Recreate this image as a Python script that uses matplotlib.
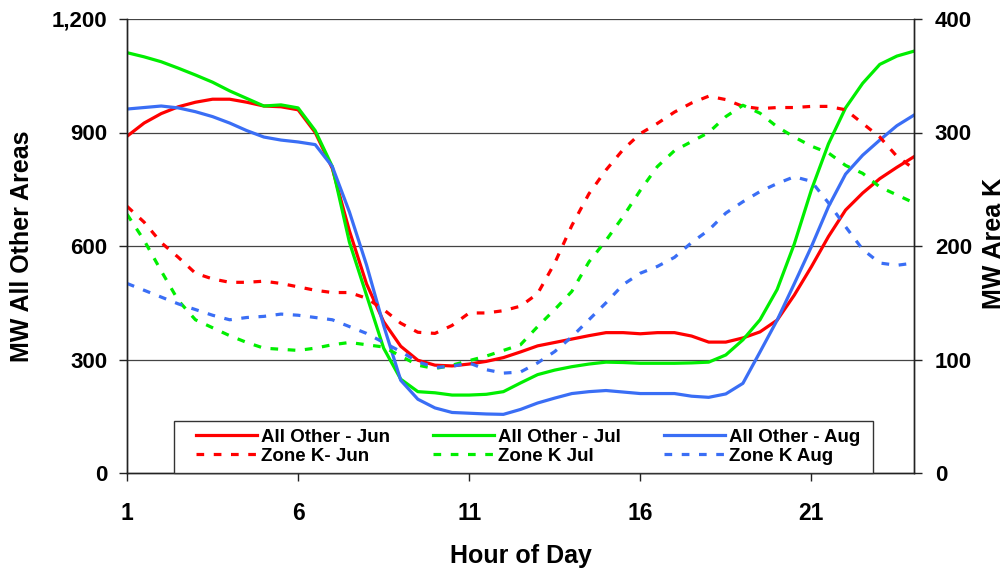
import matplotlib
matplotlib.use("Agg")
import matplotlib.pyplot as plt
from matplotlib.lines import Line2D
from matplotlib.patches import Rectangle

plt.rcParams['font.family'] = ['Liberation Sans', 'DejaVu Sans']
plt.rcParams['font.weight'] = 'bold'

hours = [1, 1.5, 2, 2.5, 3, 3.5, 4, 4.5, 5, 5.5, 6, 6.5, 7, 7.5, 8, 8.5, 9, 9.5,
         10, 10.5, 11, 11.5, 12, 12.5, 13, 13.5, 14, 14.5, 15, 15.5, 16, 16.5,
         17, 17.5, 18, 18.5, 19, 19.5, 20, 20.5, 21, 21.5, 22, 22.5, 23, 23.5, 24]

all_other_jun = [890, 925, 950, 968, 980, 988, 988, 980, 970, 968, 960, 900, 805, 640,
                 500, 400, 335, 298, 285, 283, 288, 295, 305, 320, 336, 345, 354, 363,
                 371, 371, 368, 371, 371, 362, 346, 346, 357, 373, 404, 470, 545, 625,
                 695, 740, 778, 808, 836]
all_other_jul = [1111, 1100, 1087, 1070, 1052, 1033, 1010, 990, 970, 973, 965, 905, 810,
                 610, 470, 330, 248, 215, 212, 206, 206, 208, 215, 238, 260, 272, 281,
                 288, 293, 292, 290, 290, 290, 291, 293, 312, 352, 405, 485, 605, 748,
                 870, 965, 1030, 1080, 1102, 1115]
all_other_aug = [962, 966, 970, 965, 955, 942, 925, 905, 888, 880, 875, 868, 810, 690,
                 550, 390, 245, 195, 172, 160, 158, 156, 155, 168, 185, 198, 210, 215,
                 218, 214, 210, 210, 210, 203, 200, 209, 237, 320, 404, 500, 598, 704,
                 790, 840, 880, 918, 946]

zone_k_jun = [235, 221, 203, 190, 176, 171, 168, 168, 169, 167, 164, 161, 159, 159, 154,
              144, 132, 124, 123, 130, 141, 141, 143, 147, 158, 185, 218, 246, 267, 285,
              299, 308, 318, 326, 332, 329, 323, 321, 322, 322, 323, 323, 320, 308, 296,
              279, 268]
zone_k_jul = [228, 205, 178, 152, 135, 128, 121, 115, 110, 109, 108, 110, 113, 115, 113,
              111, 103, 95, 92, 95, 99, 103, 108, 113, 129, 144, 160, 186, 205, 226, 249,
              270, 284, 292, 300, 314, 324, 317, 305, 296, 288, 282, 271, 264, 252, 245, 238]
zone_k_aug = [167, 161, 155, 149, 144, 139, 135, 137, 138, 140, 139, 137, 135, 129, 123,
              115, 107, 98, 93, 94, 97, 91, 88, 89, 97, 107, 120, 135, 150, 166, 176, 182,
              190, 203, 214, 229, 239, 248, 255, 261, 257, 238, 217, 197, 185, 183, 185]

x_ticks = [1, 6, 11, 16, 21]
left_ticks = [0, 300, 600, 900, 1200]
left_labels = ['0', '300', '600', '900', '1,200']
right_ticks = [0, 100, 200, 300, 400]

RED = '#FF0000'
GREEN = '#00EE00'
BLUE = '#3A6EF5'
LW = 2.3
DASH = (0, (2.4, 3.0))

W, H = 1008, 575
fig = plt.figure(figsize=(W / 100, H / 100), dpi=100)
ax = fig.add_axes([127 / W, 102 / H, (914 - 127) / W, (473 - 19) / H])
ax2 = ax.twinx()

ax.plot(hours, all_other_jun, color=RED, lw=LW)
ax.plot(hours, all_other_jul, color=GREEN, lw=LW)
ax.plot(hours, all_other_aug, color=BLUE, lw=LW)
ax2.plot(hours, zone_k_jun, color=RED, lw=LW, ls=DASH)
ax2.plot(hours, zone_k_jul, color=GREEN, lw=LW, ls=DASH)
ax2.plot(hours, zone_k_aug, color=BLUE, lw=LW, ls=DASH)

ax.set_xlim(1, 24)
ax.set_ylim(0, 1200)
ax2.set_ylim(0, 400)
ax.set_xticks(x_ticks)
ax.set_xticklabels([str(t) for t in x_ticks])
ax.set_yticks(left_ticks)
ax.set_yticklabels(left_labels)
ax2.set_yticks(right_ticks)
ax2.set_yticklabels([str(t) for t in right_ticks])

for yv in left_ticks[1:]:
    ax.axhline(yv, color='#444444', lw=0.9, zorder=0.5)

for a in (ax, ax2):
    a.spines['top'].set_visible(False)
    for s in ('left', 'right', 'bottom'):
        a.spines[s].set_color('#222222')
        a.spines[s].set_linewidth(1.0)

ax.tick_params(axis='x', direction='out', length=6, width=1, pad=15, labelsize=16.5, color='#222222')
ax.tick_params(axis='y', direction='out', length=6, width=1, pad=8, labelsize=16, color='#222222')
ax2.tick_params(axis='y', direction='out', length=6, width=1, pad=9, labelsize=16, color='#222222')
for lab in ax.get_xticklabels() + ax.get_yticklabels() + ax2.get_yticklabels():
    lab.set_fontweight('bold')

fig.text(521 / W, (H - 563) / H, 'Hour of Day', fontsize=18, fontweight='bold',
         ha='center', va='baseline')
fig.text(22 / W, (H - 246) / H, 'MW All Other Areas', fontsize=18, fontweight='bold',
         ha='center', va='center', rotation=90)
fig.text(994 / W, (H - 243) / H, 'MW Area K', fontsize=18, fontweight='bold',
         ha='center', va='center', rotation=90)

# legend frame (drawn in ax2 so it sits above the lines but below the legend)
frame = Rectangle((174 / W, 102 / H), 699 / W, 52 / H, transform=fig.transFigure,
                  facecolor='white', edgecolor='#333333', lw=1.0, zorder=4, clip_on=False)
ax2.add_artist(frame)

handles = [
    Line2D([], [], color=RED, lw=LW),
    Line2D([], [], color=RED, lw=LW, ls=DASH),
    Line2D([], [], color=GREEN, lw=LW),
    Line2D([], [], color=GREEN, lw=LW, ls=DASH),
    Line2D([], [], color=BLUE, lw=LW),
    Line2D([], [], color=BLUE, lw=LW, ls=DASH),
]
labels = ['All Other - Jun', 'Zone K- Jun', 'All Other - Jul', 'Zone K Jul',
          'All Other - Aug', 'Zone K Aug']
leg = ax2.legend(handles, labels, ncol=3, loc='center left',
                 bbox_to_anchor=(196 / W, (H - 446.5) / H, (860 - 196) / W, 0),
                 bbox_transform=fig.transFigure, mode='expand', borderaxespad=0,
                 frameon=False, prop={'size': 13.5, 'weight': 'bold'},
                 handlelength=3.25, handletextpad=0.2, labelspacing=0.1,
                 borderpad=0)
leg.set_zorder(6)

fig.savefig('out.png', dpi=100)
